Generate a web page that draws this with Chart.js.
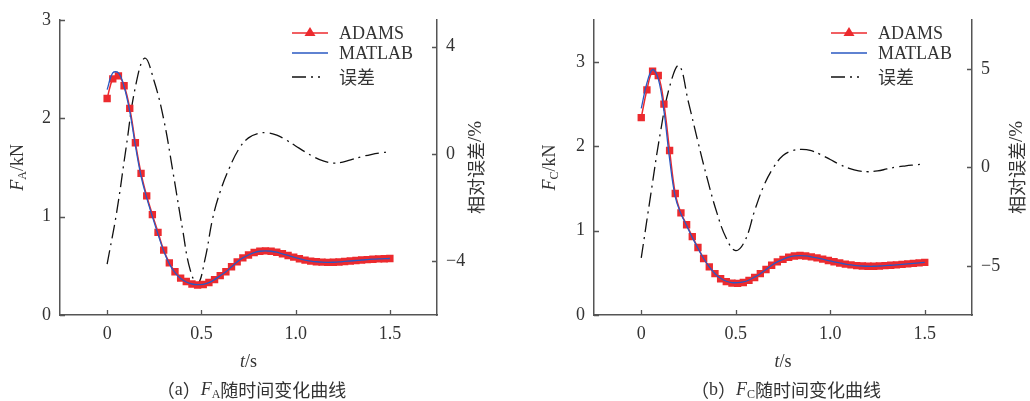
<!DOCTYPE html>
<html>
<head>
<meta charset="utf-8">
<script src="https://cdn.jsdelivr.net/npm/chart.js@4/dist/chart.umd.min.js"></script>
<style>
body { margin: 0; background: #fff; }
#wrap { position: relative; width: 1030px; height: 401px; }
canvas { position: absolute; top: 0; }
</style>
</head>
<body>
<div id="wrap">
  <canvas id="chartA" width="515" height="401" style="left:0"></canvas>
  <canvas id="chartC" width="515" height="401" style="left:515px"></canvas>
</div>
<script>
// time grid of the ADAMS / MATLAB samples (s)
const timeForce = [0, 0.03, 0.06, 0.09, 0.12, 0.15, 0.18, 0.21, 0.24, 0.27, 0.30,
  0.33, 0.36, 0.39, 0.42, 0.45, 0.48, 0.51, 0.54, 0.57, 0.60,
  0.63, 0.66, 0.69, 0.72, 0.75, 0.78, 0.81, 0.84, 0.87, 0.90,
  0.93, 0.96, 0.99, 1.02, 1.05, 1.08, 1.11, 1.14, 1.17, 1.20,
  1.23, 1.26, 1.29, 1.32, 1.35, 1.38, 1.41, 1.44, 1.47, 1.50];

// (a) F_A, kN
const faAdams = [2.20, 2.40, 2.43, 2.33, 2.10, 1.75, 1.44, 1.21, 1.02, 0.84, 0.66,
  0.53, 0.44, 0.375, 0.34, 0.315, 0.305, 0.31, 0.33, 0.36, 0.40,
  0.44, 0.49, 0.54, 0.58, 0.61, 0.635, 0.648, 0.652, 0.648, 0.638,
  0.622, 0.605, 0.588, 0.572, 0.558, 0.548, 0.541, 0.537, 0.535, 0.536,
  0.539, 0.544, 0.549, 0.554, 0.559, 0.563, 0.567, 0.570, 0.572, 0.574];
const faMatlab = [2.29, 2.46, 2.46, 2.32, 2.07, 1.72, 1.41, 1.19, 1.00, 0.82, 0.65,
  0.52, 0.43, 0.37, 0.335, 0.315, 0.308, 0.312, 0.33, 0.36, 0.40,
  0.44, 0.49, 0.54, 0.58, 0.61, 0.635, 0.648, 0.652, 0.648, 0.638,
  0.622, 0.605, 0.588, 0.572, 0.558, 0.548, 0.541, 0.537, 0.535, 0.536,
  0.539, 0.544, 0.549, 0.554, 0.559, 0.563, 0.567, 0.570, 0.572, 0.574];
const timeErrA = [0, 0.05, 0.1, 0.15, 0.2, 0.25, 0.3, 0.35, 0.4, 0.44, 0.48, 0.52, 0.56,
  0.6, 0.65, 0.7, 0.75, 0.8, 0.85, 0.9, 0.95, 1.0, 1.05, 1.1, 1.15, 1.2,
  1.25, 1.3, 1.35, 1.4, 1.45, 1.5];
const faError = [-4.1, -2.2, 0.2, 2.5, 3.57, 2.7, 1.3, -0.7, -2.8, -4.3, -4.85, -3.9, -2.4,
  -1.4, -0.5, 0.2, 0.6, 0.76, 0.79, 0.7, 0.52, 0.3, 0.08, -0.12, -0.27, -0.34,
  -0.3, -0.2, -0.1, -0.02, 0.04, 0.08];

// (b) F_C, kN
const fcAdams = [2.34, 2.67, 2.89, 2.84, 2.50, 1.95, 1.44, 1.21, 1.07, 0.93, 0.80,
  0.67, 0.57, 0.49, 0.43, 0.395, 0.378, 0.375, 0.385, 0.41, 0.445,
  0.49, 0.54, 0.59, 0.63, 0.66, 0.685, 0.70, 0.705, 0.70, 0.69,
  0.677, 0.662, 0.646, 0.631, 0.617, 0.604, 0.594, 0.586, 0.581, 0.578,
  0.578, 0.581, 0.585, 0.59, 0.595, 0.60, 0.606, 0.612, 0.618, 0.624];
const fcMatlab = [2.45, 2.75, 2.91, 2.80, 2.42, 1.85, 1.40, 1.20, 1.06, 0.92, 0.79,
  0.67, 0.57, 0.49, 0.435, 0.40, 0.385, 0.383, 0.392, 0.415, 0.45,
  0.49, 0.54, 0.59, 0.63, 0.66, 0.685, 0.70, 0.705, 0.70, 0.69,
  0.677, 0.662, 0.646, 0.631, 0.617, 0.604, 0.594, 0.586, 0.581, 0.578,
  0.578, 0.581, 0.585, 0.59, 0.595, 0.60, 0.606, 0.612, 0.618, 0.624];
const timeErrC = [0, 0.05, 0.1, 0.15, 0.2, 0.25, 0.3, 0.35, 0.4, 0.45, 0.5, 0.55, 0.6,
  0.65, 0.7, 0.75, 0.8, 0.85, 0.9, 0.95, 1.0, 1.05, 1.1, 1.15, 1.2, 1.25,
  1.3, 1.35, 1.4, 1.45, 1.48];
const fcError = [-4.6, -1.4, 1.7, 4.1, 5.17, 3.3, 1.3, -0.6, -2.3, -3.6, -4.23, -3.7, -2.2,
  -0.9, 0.0, 0.6, 0.85, 0.92, 0.85, 0.65, 0.4, 0.15, -0.05, -0.18, -0.22, -0.18,
  -0.08, 0.02, 0.08, 0.13, 0.16];

const xTicks = [0, 0.5, 1.0, 1.5];
const forceTicks = [0, 1, 2, 3];
const errTicksA = [-4, 0, 4];
const errTicksC = [-5, 0, 5];
const seriesNames = ['ADAMS', 'MATLAB', '误差'];

const SERIF = '"Liberation Serif", "Times New Roman", serif';
const CJK = '"Noto Sans CJK SC", sans-serif';
const RED = '#ec2a2e';
const BLUE = '#2a58c2';
const AXIS = '#555';
const TEXT = '#333';

function pts(xs, ys) {
  return xs.map((x, i) => ({x: x, y: ys[i]}));
}

// draws a row of text pieces centred on (x, y), optionally rotated
function drawRuns(ctx, runs, x, y, rot) {
  ctx.save();
  ctx.translate(x, y);
  ctx.rotate(rot || 0);
  ctx.textBaseline = 'middle';
  ctx.textAlign = 'left';
  ctx.fillStyle = TEXT;
  let w = 0;
  runs.forEach(r => { ctx.font = r.font; r.w = ctx.measureText(r.text).width; w += r.w; });
  let cx = -w / 2;
  runs.forEach(r => {
    ctx.font = r.font;
    ctx.fillText(r.text, cx, r.dy || 0);
    cx += r.w;
  });
  ctx.restore();
}

const decor = {
  id: 'decor',
  afterDraw(chart) {
    const o = chart.options.plugins.decor;
    const {ctx, chartArea: a, scales} = chart;

    // inward tick marks
    ctx.save();
    ctx.strokeStyle = AXIS;
    ctx.lineWidth = 1.3;
    ctx.beginPath();
    scales.x.ticks.forEach(t => {
      const px = Math.round(scales.x.getPixelForValue(t.value)) + 0.5;
      ctx.moveTo(px, a.bottom); ctx.lineTo(px, a.bottom - 5);
    });
    scales.y.ticks.forEach(t => {
      const py = Math.round(scales.y.getPixelForValue(t.value)) + 0.5;
      ctx.moveTo(a.left, py); ctx.lineTo(a.left + 5, py);
    });
    scales.y1.ticks.forEach(t => {
      const py = Math.round(scales.y1.getPixelForValue(t.value)) + 0.5;
      ctx.moveTo(a.right, py); ctx.lineTo(a.right - 5, py);
    });
    ctx.stroke();
    ctx.restore();

    // legend
    const lx = o.legendX, tx = lx + 47;
    const rows = [33, 53, 77];
    ctx.save();
    ctx.lineWidth = 1.5;
    ctx.strokeStyle = RED;
    ctx.beginPath(); ctx.moveTo(lx, rows[0]); ctx.lineTo(lx + 36, rows[0]); ctx.stroke();
    ctx.fillStyle = RED;
    ctx.beginPath();
    ctx.moveTo(lx + 18, rows[0] - 6); ctx.lineTo(lx + 23.5, rows[0] + 3); ctx.lineTo(lx + 12.5, rows[0] + 3);
    ctx.closePath(); ctx.fill();
    ctx.strokeStyle = BLUE;
    ctx.lineWidth = 1.3;
    ctx.beginPath(); ctx.moveTo(lx, rows[1]); ctx.lineTo(lx + 36, rows[1]); ctx.stroke();
    ctx.strokeStyle = '#111';
    ctx.setLineDash([14, 5, 2, 5]);
    ctx.beginPath(); ctx.moveTo(lx, rows[2]); ctx.lineTo(lx + 28, rows[2]); ctx.stroke();
    ctx.setLineDash([]);
    ctx.fillStyle = TEXT;
    ctx.textBaseline = 'middle';
    ctx.font = '18px ' + SERIF;
    ctx.fillText(seriesNames[0], tx, rows[0] + 1);
    ctx.fillText(seriesNames[1], tx, rows[1] + 1);
    ctx.font = '18px ' + CJK;
    ctx.fillText(seriesNames[2], tx, rows[2]);
    ctx.restore();

    // axis titles
    const midY = (a.top + a.bottom) / 2;
    drawRuns(ctx, [
      {text: 'F', font: 'italic 18px ' + SERIF},
      {text: o.sub, font: '12px ' + SERIF, dy: 5},
      {text: '/kN', font: '18px ' + SERIF}
    ], o.leftTitleX, midY, -Math.PI / 2);
    drawRuns(ctx, [
      {text: '相对误差', font: '18px ' + CJK},
      {text: '/%', font: '19px ' + SERIF}
    ], o.rightTitleX, midY, -Math.PI / 2);
    const midX = (a.left + a.right) / 2;
    drawRuns(ctx, [
      {text: 't', font: 'italic 18px ' + SERIF},
      {text: '/s', font: '18px ' + SERIF}
    ], midX, 362);

    // caption
    drawRuns(ctx, [
      {text: '（', font: '18px ' + CJK},
      {text: o.tag, font: '18px ' + SERIF},
      {text: '）', font: '18px ' + CJK},
      {text: 'F', font: 'italic 18px ' + SERIF},
      {text: o.sub, font: '12px ' + SERIF, dy: 5},
      {text: '随时间变化曲线', font: '18px ' + CJK}
    ], midX + 3, 390);
  }
};

function buildChart(id, o) {
  const tickFont = {family: SERIF, size: 18};
  return new Chart(document.getElementById(id), {
    type: 'line',
    data: {
      datasets: [
        {label: seriesNames[1], data: pts(timeForce, o.matlab), yAxisID: 'y', order: 0,
          borderColor: BLUE, borderWidth: 1.3, pointRadius: 0, tension: 0.4},
        {label: seriesNames[0], data: pts(timeForce, o.adams), yAxisID: 'y', order: 1,
          borderColor: RED, backgroundColor: RED, borderWidth: 1.5,
          pointStyle: 'rect', pointRadius: 5.2, pointBorderWidth: 0, tension: 0.4},
        {label: seriesNames[2], data: pts(o.tErr, o.err), yAxisID: 'y1', order: 2,
          borderColor: '#111', borderWidth: 1.3, borderDash: [14, 5, 2, 5],
          pointRadius: 0, tension: 0.4}
      ]
    },
    options: {
      responsive: false,
      animation: false,
      events: [],
      layout: {padding: {top: 13, left: 0, right: 0, bottom: 0}},
      plugins: {
        legend: {display: false},
        tooltip: {enabled: false},
        decor: o.decor
      },
      scales: {
        x: {
          type: 'linear', min: -0.25, max: 1.75,
          afterBuildTicks: s => { s.ticks = xTicks.map(v => ({value: v})); },
          afterFit: s => { s.height = 86; },
          grid: {display: true, drawOnChartArea: false, drawTicks: false},
          border: {display: true, color: AXIS, width: 1.5},
          ticks: {color: TEXT, font: tickFont, padding: 8,
            callback: v => v === 0 ? '0' : v.toFixed(1)}
        },
        y: {
          type: 'linear', position: 'left', min: 0, max: o.yMax,
          afterBuildTicks: s => { s.ticks = forceTicks.map(v => ({value: v})); },
          afterFit: s => { s.width = o.leftW; },
          grid: {display: true, drawOnChartArea: false, drawTicks: false},
          border: {display: true, color: AXIS, width: 1.5},
          ticks: {color: TEXT, font: tickFont, padding: 9}
        },
        y1: {
          type: 'linear', position: 'right', min: o.errMin, max: o.errMax,
          afterBuildTicks: s => { s.ticks = o.errTicks.map(v => ({value: v})); },
          afterFit: s => { s.width = o.rightW; },
          grid: {display: true, drawOnChartArea: false, drawTicks: false},
          border: {display: true, color: AXIS, width: 1.5},
          ticks: {color: TEXT, font: tickFont, padding: 9,
            callback: v => v < 0 ? '\u2212' + Math.abs(v) : String(v)}
        }
      }
    },
    plugins: [decor]
  });
}

buildChart('chartA', {
  adams: faAdams, matlab: faMatlab, tErr: timeErrA, err: faError,
  yMax: 3, errMin: -6, errMax: 5, errTicks: errTicksA,
  leftW: 60, rightW: 78,
  decor: {legendX: 292, leftTitleX: 18, rightTitleX: 476, sub: 'A', tag: 'a'}
});

buildChart('chartC', {
  adams: fcAdams, matlab: fcMatlab, tErr: timeErrC, err: fcError,
  yMax: 3.5, errMin: -7.5, errMax: 7.5, errTicks: errTicksC,
  leftW: 79, rightW: 58,
  decor: {legendX: 316, leftTitleX: 35, rightTitleX: 502, sub: 'C', tag: 'b'}
});
</script>
</body>
</html>
